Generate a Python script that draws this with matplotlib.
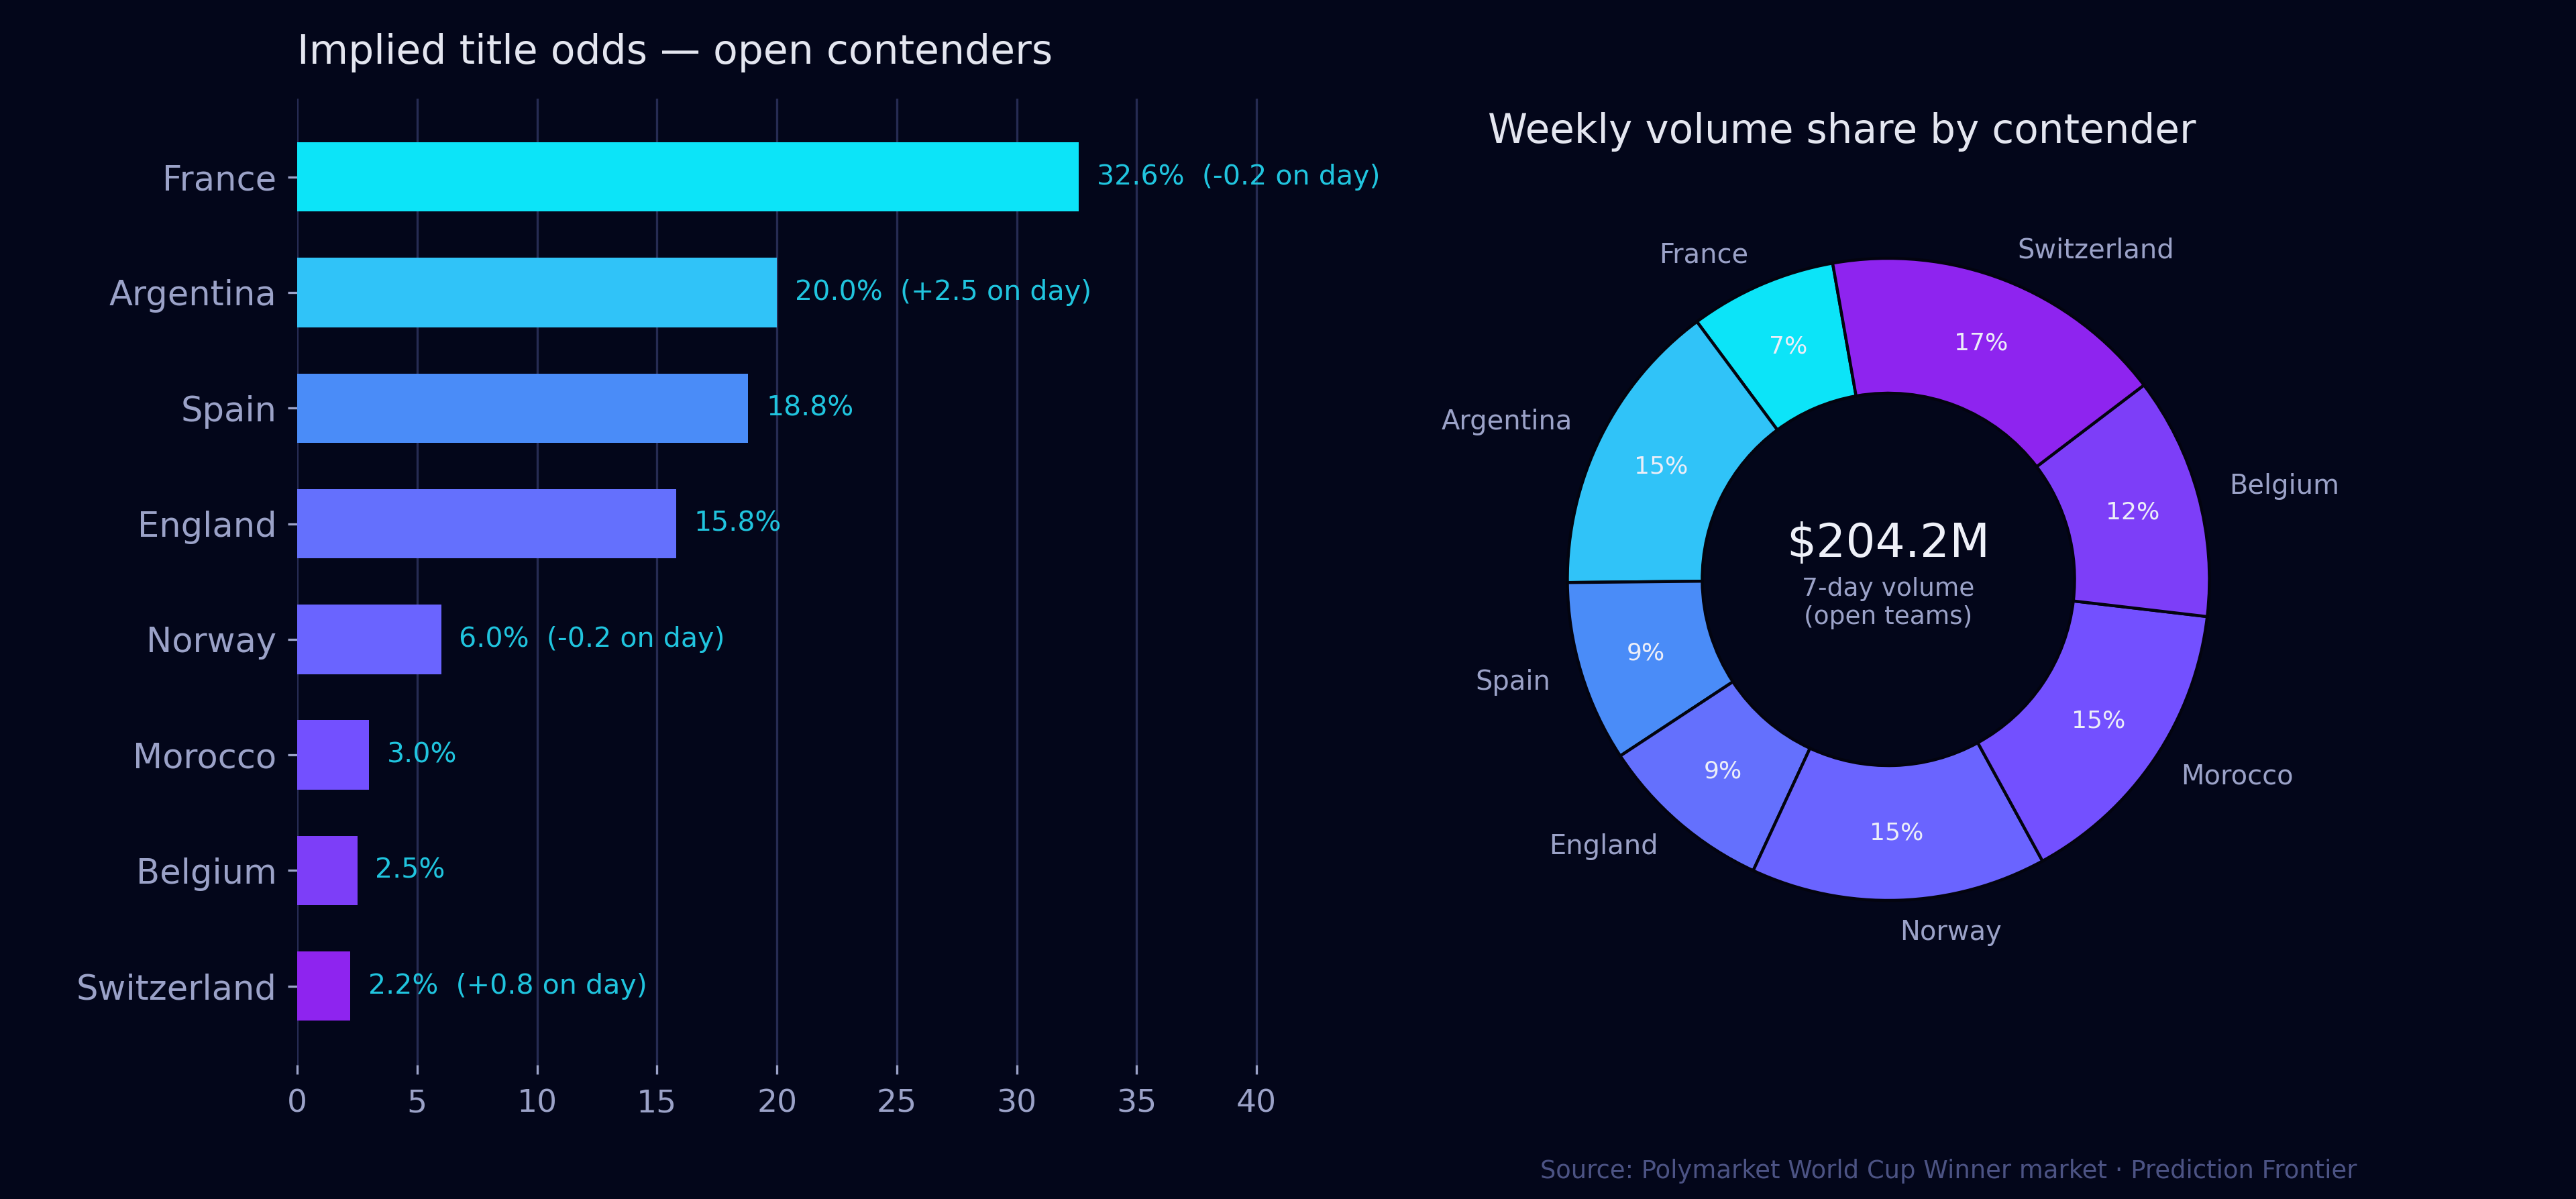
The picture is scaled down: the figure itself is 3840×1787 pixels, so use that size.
import matplotlib
matplotlib.use("Agg")
import matplotlib.pyplot as plt

# ---- data ----
teams = ["France", "Argentina", "Spain", "England", "Norway", "Morocco", "Belgium", "Switzerland"]
odds = [32.6, 20.0, 18.8, 15.8, 6.0, 3.0, 2.5, 2.2]
day_change = ["-0.2", "+2.5", None, None, "-0.2", None, None, "+0.8"]
volume_m = [15.1, 30.6, 18.6, 18.0, 30.4, 31.0, 24.9, 35.6]
total_volume_label = "$204.2M"
x_ticks = [0, 5, 10, 15, 20, 25, 30, 35, 40]
colors = ["#0ce4f8", "#30c3f8", "#4a8cf8", "#6470fd", "#6a64ff", "#7350ff", "#7d3ef8", "#8e24ef"]

BG = "#03061a"
TICK = "#9ba2c8"
VAL = "#20c4de"
GRID = "#262b52"
TITLE = "#e4e6f0"

plt.rcParams["font.family"] = ["DejaVu Sans"]

fig = plt.figure(figsize=(19.2, 8.935), dpi=200, facecolor=BG)

# ---- left: horizontal bars ----
ax = fig.add_axes([0.1154, 0.112, 0.4096, 0.806], facecolor=BG)
ypos = list(range(len(teams)))
ax.barh(ypos, odds, height=0.6, color=colors, zorder=3)
ax.invert_yaxis()
ax.set_yticks(ypos)
ax.set_yticklabels(teams)
ax.set_xticks(x_ticks)
ax.set_xlim(0, 44)
ax.grid(axis="x", color=GRID, linewidth=1.2, zorder=0)
ax.set_axisbelow(True)
for s in ax.spines.values():
    s.set_visible(False)
ax.tick_params(axis="y", colors=TICK, labelsize=18.4, length=5, width=1.2, pad=6)
ax.tick_params(axis="x", colors=TICK, labelsize=17, length=5, width=1.2, pad=8)
for i, (v, d) in enumerate(zip(odds, day_change)):
    lab = f"{v:.1f}%" if d is None else f"{v:.1f}%  ({d} on day)"
    ax.text(v + 0.75, i, lab, color=VAL, fontsize=14.8, va="center", ha="left", zorder=4)

fig.text(0.1154, 0.956, "Implied title odds \u2014 open contenders", color=TITLE,
         fontsize=21.6, ha="left", va="center")

# ---- right: donut ----
cx, cy, r = 2815 / 3840, 1 - 863.5 / 1787, 478.5
half_w = 1.25 * r / 3840
half_h = 1.25 * r / 1787
pax = fig.add_axes([cx - half_w, cy - half_h, 2 * half_w, 2 * half_h], facecolor=BG)
wedges, texts, autotexts = pax.pie(
    volume_m, labels=teams, colors=colors, startangle=100, counterclock=True,
    autopct="%.0f%%", pctdistance=0.79, labeldistance=1.1,
    wedgeprops=dict(width=0.42, edgecolor="#03040f", linewidth=1.6),
    textprops=dict(color=TICK, fontsize=14.4),
)
for t in autotexts:
    t.set_color("#eceef8")
    t.set_fontsize(13)
pax.set_xlim(-1.25, 1.25)
pax.set_ylim(-1.25, 1.25)
pax.set_aspect("equal")
pax.text(0, 0.11, total_volume_label, color="#eef0f8", fontsize=25, ha="center", va="center")
pax.text(0, -0.03, "7-day volume", color=TICK, fontsize=13.5, ha="center", va="center")
pax.text(0, -0.118, "(open teams)", color=TICK, fontsize=13.5, ha="center", va="center")

fig.text(0.715, 0.890, "Weekly volume share by contender", color=TITLE,
         fontsize=21.5, ha="center", va="center")

fig.text(0.7565, 0.023, "Source: Polymarket World Cup Winner market \u00b7 Prediction Frontier",
         color="#4c5384", fontsize=13.3, ha="center", va="center")

fig.savefig("out.png", dpi=200, facecolor=BG)
